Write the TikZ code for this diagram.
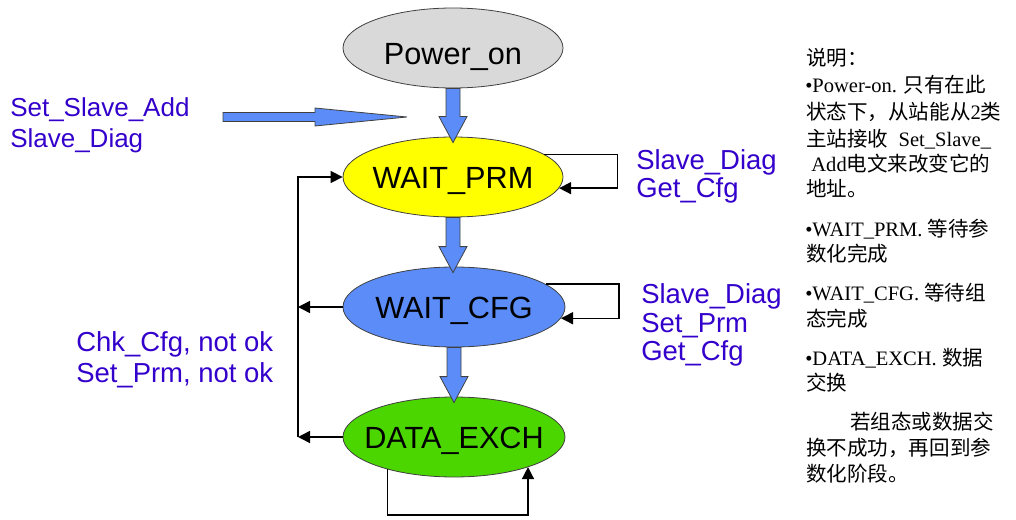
\documentclass[tikz,border=0pt]{standalone}
\usepackage{fontspec}
\setmainfont{Liberation Serif}
\newfontfamily\arialf{Liberation Sans}
\newfontfamily\cjk{Noto Sans CJK SC}
\usetikzlibrary{arrows.meta,calc,shapes.geometric}
\definecolor{lblue}{RGB}{51,0,204}
\definecolor{gfill}{RGB}{217,217,217}
\definecolor{yfill}{RGB}{255,255,0}
\definecolor{bfill}{RGB}{91,140,247}
\definecolor{gnfill}{RGB}{76,214,0}
\definecolor{edgec}{RGB}{64,64,64}
\newcommand\vblk[2]{\filldraw[blk] let \p1=(#1),\p2=(#2) in
  (\x1-5.25pt,\y1) -- (\x1-5.25pt,\y2+19.5pt) -- (\x1-10.5pt,\y2+19.5pt) -- (\x1,\y2)
  -- (\x1+10.5pt,\y2+19.5pt) -- (\x1+5.25pt,\y2+19.5pt) -- (\x1+5.25pt,\y1) -- cycle;}
\newcommand\stxt[1]{\makebox[0pt]{\raisebox{-0.36em}[0pt][0pt]{#1}}}
\begin{document}
\begin{tikzpicture}[x=0.75pt,y=-0.75pt,
  state/.style={ellipse,draw=edgec,line width=0.6pt,minimum width=165pt,minimum height=60pt,inner sep=0pt,font=\arialf\fontsize{23}{27}\selectfont},
  conn/.style={draw=black,line width=1.1pt,-{Triangle[length=9pt,width=9pt]}},
  blk/.style={draw=edgec,line width=0.6pt,fill=bfill},
  lab/.style={anchor=base west,inner sep=0pt,text=lblue,font=\arialf\fontsize{20.6}{24}\selectfont},
  labs/.style={anchor=base west,inner sep=0pt,text=lblue,font=\arialf\fontsize{19.5}{23}\selectfont},
  note/.style={anchor=base west,inner sep=0pt,font=\fontsize{15.4}{18}\selectfont}]
\useasboundingbox (0,0) rectangle (1016,520);

% states
\node[state,fill=gfill] (pw) at (453,48) {\stxt{\raisebox{-4pt}{Power\_on}}};
\node[state,fill=yfill] (prm) at (453,177) {\stxt{WAIT\_PRM}};
\node[state,fill=bfill,minimum width=166.5pt] (cfg) at (454,307) {\stxt{WAIT\_CFG}};
\node[state,fill=gnfill,minimum width=166.5pt] (dx) at (454,437) {\stxt{DATA\_EXCH}};

% block arrows
\vblk{pw.south}{$(prm.north)+(0,6)$}
\vblk{prm.south}{$(cfg.north)+(0,6)$}
\vblk{cfg.south}{$(dx.north)+(0,6)$}
\coordinate (hs) at (223,117);
\coordinate (ht) at (407,117);
\filldraw[blk] let \p1=(hs),\p2=(ht) in
  (\x1,\y1+3.4pt) -- (\x2-69pt,\y1+3.4pt) -- (\x2-69pt,\y1+6.75pt) -- (\x2,\y2)
  -- (\x2-69pt,\y1-6.75pt) -- (\x2-69pt,\y1-3.4pt) -- (\x1,\y1-3.4pt) -- cycle;

% self loops
\draw[conn] (prm.14) -- ++(73,0) |- (prm.-6);
\draw[conn] (cfg.14) -- ++(73,0) |- (cfg.-6);
\coordinate (b1) at (528,515);
\draw[conn] (dx.-154) |- (b1) -- (b1 |- dx.-22);

% return loop on the left
\coordinate (Lx) at (298,0);
\draw[conn] (dx.west) -- (dx.west -| Lx);
\draw[conn] (cfg.west) -- (cfg.west -| Lx);
\draw[conn] (dx.west -| Lx) -- (prm.west -| Lx) -- (prm.west);

% blue labels
\node[labs] (a1) at (10,117) {Set\_Slave\_Add};
\node[labs] (a2) at (10,148) {Slave\_Diag};
\node[lab] (r1) at (636,170) {Slave\_Diag};
\node[lab] (r2) at (636,198) {Get\_Cfg};
\node[lab] (s1) at (641,303) {Slave\_Diag};
\node[lab] (s2) at (641,332) {Set\_Prm};
\node[lab] (s3) at (641,360) {Get\_Cfg};
\node[lab] (c1) at (76,351) {Chk\_Cfg, not ok};
\node[lab] (c2) at (76,382) {Set\_Prm, not ok};

% notes
\node[note] (n1) at (806,66) {{\cjk 说明：}};
\node[note] (n2) at (805,93) {•Power-on. {\cjk 只有在此}};
\node[note] (n3) at (806,120) {{\cjk 状态下，从站能从}2{\cjk 类}};
\node[note] (n4) at (806,147) {{\cjk 主站接收}\ \ Set\_Slave\_};
\node[note] (n5) at (806,172) {\ Add{\cjk 电文来改变它的}};
\node[note] (n6) at (806,197) {{\cjk 地址。}};
\node[note] (n7) at (805,236) {•WAIT\_PRM. {\cjk 等待参}};
\node[note] (n8) at (806,262) {{\cjk 数化完成}};
\node[note] (n9) at (805,300) {•WAIT\_CFG. {\cjk 等待组}};
\node[note] (n10) at (806,326) {{\cjk 态完成}};
\node[note] (n11) at (805,365) {•DATA\_EXCH. {\cjk 数据}};
\node[note] (n12) at (806,390) {{\cjk 交换}};
\node[note] (n13) at (850,429) {{\cjk 若组态或数据交}};
\node[note] (n14) at (806,455) {{\cjk 换不成功，再回到参}};
\node[note] (n15) at (806,481) {{\cjk 数化阶段。}};
\end{tikzpicture}
\end{document}
